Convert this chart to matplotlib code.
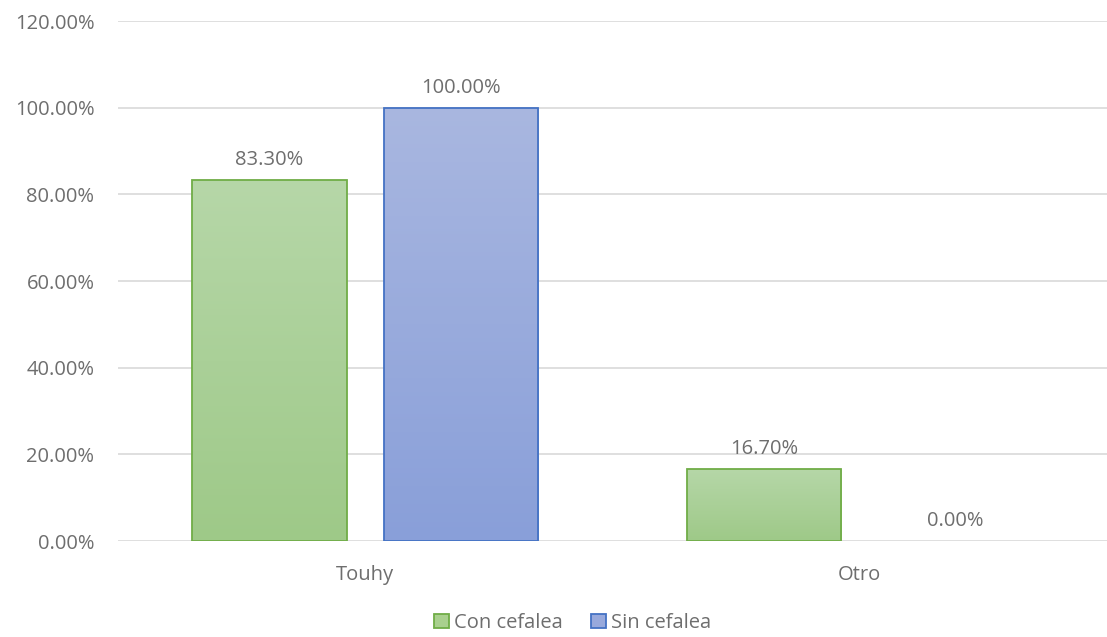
""" Bar chart: Touhy vs Otro, con / sin cefalea """

import numpy as np
import matplotlib
matplotlib.use('Agg')
import matplotlib.pyplot as plt
from matplotlib.colors import LinearSegmentedColormap
from matplotlib.patches import Patch
from matplotlib.ticker import FuncFormatter, MultipleLocator

plt.rcParams['font.family'] = ['Open Sans', 'DejaVu Sans']

categories = ['Touhy', 'Otro']
con_cefalea = [83.3, 16.7]
sin_cefalea = [100.0, 0.0]
series_names = ['Con cefalea', 'Sin cefalea']

TEXT = '#6e6e6e'
GRID = '#d9d9d9'
FS = 14.5


def gradient_bars(ax, rects, top, bottom):
    """ Fill each bar with a vertical gradient, light on top """
    cmap = LinearSegmentedColormap.from_list('g', [bottom, top])
    grad = np.linspace(0, 1, 256).reshape(-1, 1)
    for r in rects:
        if r.get_height() <= 0:
            r.set_linewidth(0)
            continue
        x0, y0 = r.get_x(), r.get_y()
        im = ax.imshow(grad, cmap=cmap, origin='lower', aspect='auto',
                       extent=[x0, x0 + r.get_width(), y0, y0 + r.get_height()],
                       zorder=2)
        im.set_clip_path(r)


fig = plt.figure(figsize=(11.07, 6.37), dpi=100)
ax = fig.add_axes([0.1066, 0.1507, 0.8934, 0.8163])

x = np.arange(len(categories))
w = 0.3125
off = 0.194

b1 = ax.bar(x - off, con_cefalea, w, facecolor='none', edgecolor='#70ad47',
            linewidth=1.3, zorder=3)
b2 = ax.bar(x + off, sin_cefalea, w, facecolor='none', edgecolor='#4472c4',
            linewidth=1.3, zorder=3)
gradient_bars(ax, b1, '#b6d7a8', '#9ec988')
gradient_bars(ax, b2, '#a9b7e0', '#899fd9')

for bars, vals in ((b1, con_cefalea), (b2, sin_cefalea)):
    for r, v in zip(bars, vals):
        ax.annotate(f'{v:.2f}%', (r.get_x() + r.get_width() / 2, v),
                    xytext=(0, 7), textcoords='offset points',
                    ha='center', va='bottom', fontsize=FS, color=TEXT)

ax.set_xlim(-0.5, 1.5)
ax.set_ylim(0, 120)
ax.yaxis.set_major_locator(MultipleLocator(20))
ax.yaxis.set_major_formatter(FuncFormatter(lambda v, _: f'{v:.2f}%'))
ax.set_xticks(x)
ax.set_xticklabels(categories)
ax.tick_params(axis='both', length=0, labelsize=FS, labelcolor=TEXT)
ax.tick_params(axis='y', pad=17)
ax.tick_params(axis='x', pad=17)
ax.grid(axis='y', color=GRID, linewidth=1.2, zorder=0)
ax.set_axisbelow(True)
for s in ax.spines.values():
    s.set_visible(False)

handles = [Patch(facecolor='#a9d08e', edgecolor='#70ad47', linewidth=1.3),
           Patch(facecolor='#98a9dc', edgecolor='#4472c4', linewidth=1.3)]
fig.legend(handles, series_names, loc='center', bbox_to_anchor=(0.517, 0.022),
           ncol=2, frameon=False, fontsize=FS, labelcolor=TEXT,
           handlelength=0.75, handleheight=0.75, handletextpad=0.25,
           columnspacing=1.4)

fig.savefig('out.png', dpi=100)
